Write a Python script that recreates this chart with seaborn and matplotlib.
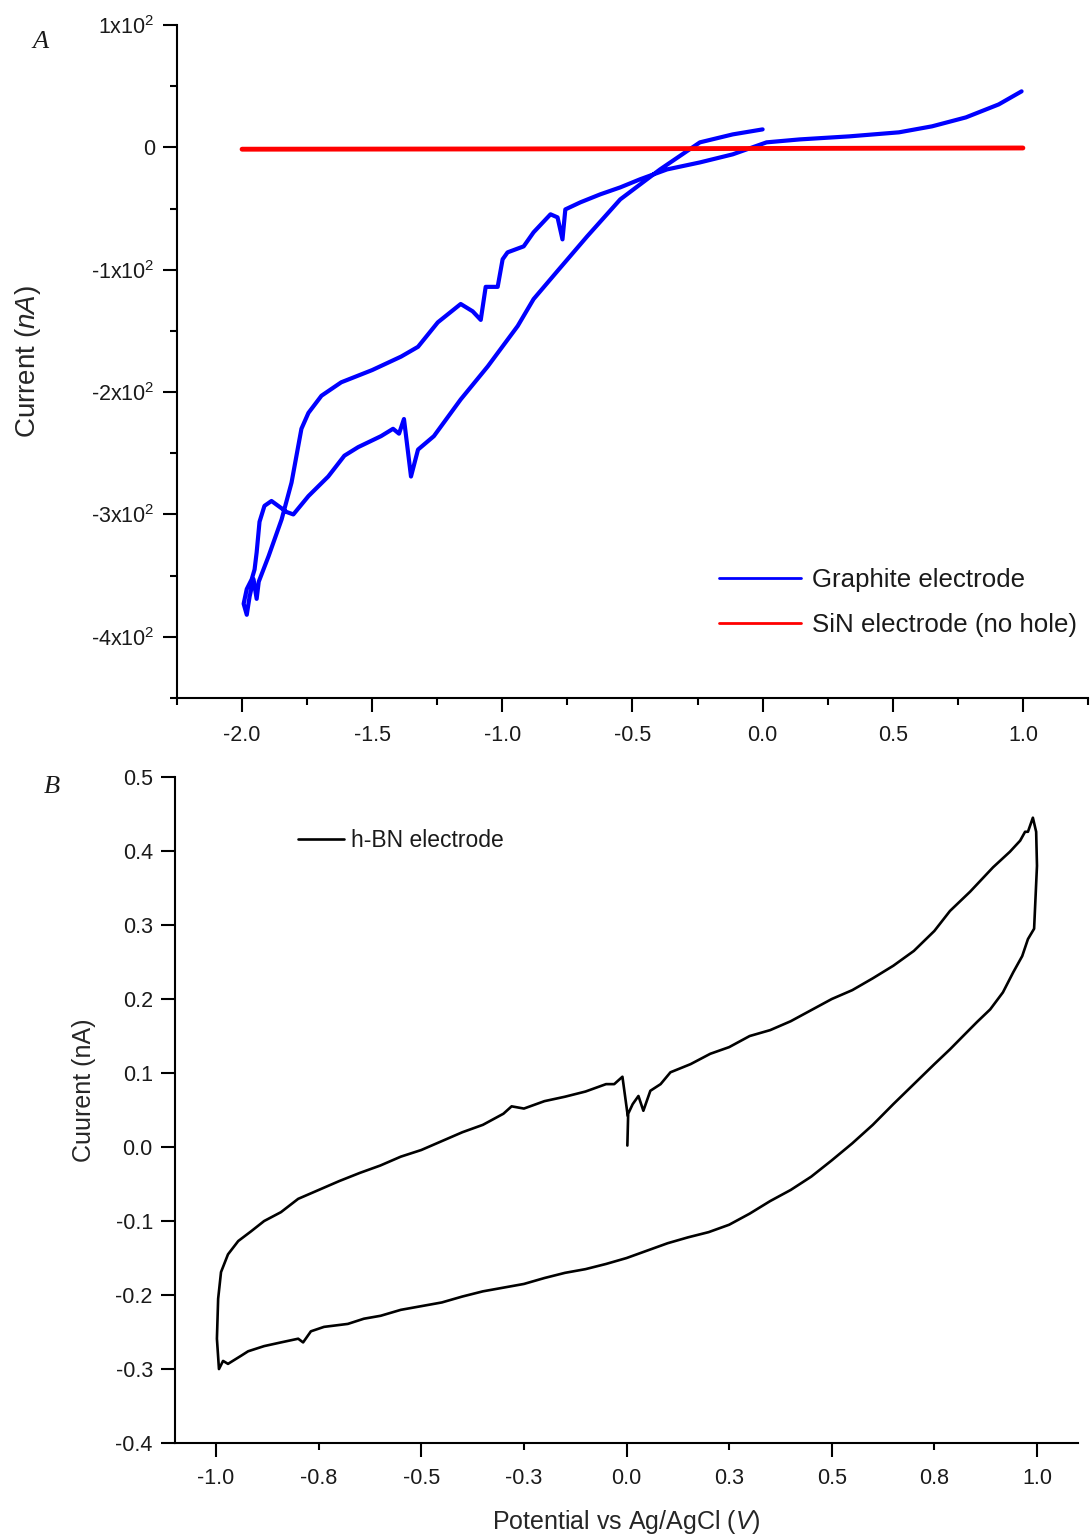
import numpy as np
import pandas as pd
import seaborn as sns
import matplotlib.pyplot as plt

# ---------------------------------
# Data
# ---------------------------------
# Panel A: graphite electrode CV loop (V, nA)
graphite_v = [0.000, -0.115, -0.241, -0.394, -0.547, -0.674, -0.788, -0.880, -0.941,
              -1.056, -1.160, -1.263, -1.324, -1.351, -1.378, -1.397, -1.420, -1.466,
              -1.554, -1.607, -1.669, -1.745, -1.803, -1.829, -1.887, -1.914, -1.933,
              -1.944, -1.952, -1.963, -1.982, -1.994, -1.982,
              -1.971, -1.956, -1.944, -1.936, -1.898, -1.848, -1.810, -1.772, -1.745,
              -1.695, -1.619, -1.500, -1.389, -1.324, -1.248, -1.160, -1.114, -1.083,
              -1.064, -1.018, -0.999, -0.980, -0.918, -0.880, -0.815, -0.788, -0.769,
              -0.758, -0.700, -0.624, -0.547, -0.471, -0.367, -0.241, -0.115, 0.015,
              0.142, 0.333, 0.524, 0.651, 0.781, 0.907, 0.995]
graphite_i = [14.7, 10.6, 4.1, -18.0, -42.5, -72.7, -101, -124, -146,
              -179, -206, -236, -247, -269, -222, -234, -230, -236,
              -245, -252, -269, -285, -300, -298, -289, -293, -306,
              -331, -345, -353, -361, -373, -382,
              -367, -353, -369, -355, -334, -304, -274, -230, -217,
              -203, -192, -182, -171, -163, -143, -128, -134, -141,
              -114, -114, -91.5, -85.8, -80.9, -69.4, -54.7, -57.2, -75.2,
              -50.7, -44.9, -38.4, -32.7, -26.1, -18.0, -12.3, -5.7, 4.1,
              6.5, 9.0, 12.3, 17.2, 24.5, 35.1, 45.8]

# Panel A: SiN electrode (no hole)
sin_v = [-2.0, -1.5, -1.0, -0.5, 0.0, 0.5, 1.0]
sin_i = [-1.5, -1.4, -1.3, -1.1, -0.9, -0.7, -0.5]

# Panel B: h-BN electrode CV loop (V, nA)
hbn_v = [0.002, 0.004, 0.015, 0.029, 0.041, 0.058, 0.083, 0.107, 0.156, 0.204,
         0.25, 0.30, 0.35, 0.40, 0.45, 0.50, 0.55, 0.60, 0.65, 0.70, 0.75, 0.788,
         0.837, 0.893, 0.934, 0.959, 0.971, 0.978, 0.990, 0.998, 1.000, 0.993,
         0.978, 0.964, 0.942, 0.917, 0.886, 0.854, 0.820, 0.788, 0.75, 0.70,
         0.65, 0.60, 0.55, 0.50, 0.45, 0.40, 0.35, 0.30, 0.25, 0.20, 0.15, 0.10,
         0.05, 0.00, -0.05, -0.10, -0.15, -0.20, -0.25, -0.30, -0.35, -0.40,
         -0.45, -0.50, -0.55, -0.599, -0.640, -0.679, -0.737, -0.769, -0.788,
         -0.800, -0.842, -0.883, -0.922, -0.939, -0.971, -0.983, -0.993, -0.998,
         -0.995, -0.988, -0.971, -0.946, -0.915, -0.883, -0.842, -0.800, -0.75,
         -0.70, -0.65, -0.60, -0.55, -0.50, -0.45, -0.40, -0.35, -0.30, -0.28,
         -0.25, -0.20, -0.15, -0.10, -0.05, -0.03, -0.01, 0.003]
hbn_i = [0.002, 0.045, 0.058, 0.069, 0.049, 0.076, 0.085, 0.101, 0.112, 0.126,
         0.135, 0.150, 0.158, 0.170, 0.185, 0.200, 0.212, 0.228, 0.245, 0.265, 0.292, 0.319,
         0.345, 0.378, 0.399, 0.414, 0.426, 0.426, 0.445, 0.426, 0.380, 0.295,
         0.281, 0.258, 0.236, 0.209, 0.186, 0.169, 0.150, 0.132, 0.112, 0.085,
         0.058, 0.030, 0.005, -0.018, -0.040, -0.058, -0.073, -0.090, -0.105, -0.115, -0.122, -0.130,
         -0.140, -0.150, -0.158, -0.165, -0.170, -0.177, -0.185, -0.190, -0.195, -0.202,
         -0.210, -0.215, -0.220, -0.228, -0.232, -0.239, -0.243, -0.249, -0.264,
         -0.259, -0.264, -0.269, -0.276, -0.282, -0.293, -0.289, -0.300, -0.259,
         -0.205, -0.169, -0.145, -0.127, -0.114, -0.100, -0.088, -0.070, -0.058,
         -0.046, -0.035, -0.025, -0.013, -0.004, 0.008, 0.020, 0.030, 0.045, 0.055,
         0.052, 0.062, 0.068, 0.075, 0.085, 0.085, 0.095, 0.042]

# Tick labels
a_yticks = [100, 0, -100, -200, -300, -400]
a_ylabels = ["1x10$^2$", "0", "-1x10$^2$", "-2x10$^2$", "-3x10$^2$", "-4x10$^2$"]
a_xticks = [-2.0, -1.5, -1.0, -0.5, 0.0, 0.5, 1.0]
a_xlabels = ["-2.0", "-1.5", "-1.0", "-0.5", "0.0", "0.5", "1.0"]
b_yticks = [-0.4, -0.3, -0.2, -0.1, 0.0, 0.1, 0.2, 0.3, 0.4, 0.5]
b_ylabels = ["-0.4", "-0.3", "-0.2", "-0.1", "0.0", "0.1", "0.2", "0.3", "0.4", "0.5"]
b_xticks = [-1.0, -0.5, 0.0, 0.5, 1.0]
b_xlabels = ["-1.0", "-0.5", "0.0", "0.5", "1.0"]
b_xminor = [-0.75, -0.25, 0.25, 0.75]
b_xminor_labels = ["-0.8", "-0.3", "0.3", "0.8"]

# ---------------------------------
# Style
# ---------------------------------
sns.set_theme(style="ticks")
plt.rcParams['font.family'] = ['Liberation Sans', 'DejaVu Sans']
plt.rcParams['mathtext.fontset'] = 'custom'
plt.rcParams['mathtext.rm'] = 'Liberation Sans'
plt.rcParams['mathtext.it'] = 'Liberation Sans:italic'
plt.rcParams['axes.linewidth'] = 1.5
plt.rcParams['axes.edgecolor'] = 'black'
plt.rcParams['text.color'] = '#1a1a1a'

TICK_FS = 15.5
MAJ, MIN, PAD = 10, 5, 6


def style_axis(ax, xpad):
    sns.despine(ax=ax)
    ax.tick_params(which='major', direction='out', length=MAJ, width=1.5,
                   pad=PAD, labelsize=TICK_FS, colors='black', labelcolor='#1a1a1a')
    ax.tick_params(which='minor', direction='out', length=MIN, width=1.5,
                   pad=PAD + MAJ - MIN, labelsize=TICK_FS, colors='black',
                   labelcolor='#1a1a1a')
    ax.tick_params(axis='x', which='major', pad=xpad)
    ax.tick_params(axis='x', which='minor', pad=xpad + MAJ - MIN)
    ax.grid(False)


fig = plt.figure(figsize=(10.92, 15.35), dpi=100)

# ---------------------------------
# Panel A
# ---------------------------------
ax1 = fig.add_axes([0.1621, 0.5453, 0.8342, 0.4384])
sns.lineplot(x=graphite_v, y=graphite_i, sort=False, estimator=None,
             color='#0000ff', linewidth=3.0, label='Graphite electrode', ax=ax1)
sns.lineplot(x=sin_v, y=sin_i, sort=False, estimator=None,
             color='#ff0000', linewidth=3.5, label='SiN electrode (no hole)', ax=ax1)
ax1.set_xlim(-2.25, 1.25)
ax1.set_ylim(-450, 100)
ax1.set_xticks(a_xticks, a_xlabels)
ax1.set_xticks(np.arange(-2.25, 1.26, 0.5), minor=True)
ax1.set_yticks(a_yticks, a_ylabels)
ax1.set_yticks([50, -50, -150, -250, -350, -450], minor=True)
style_axis(ax1, xpad=9.5)
ax1.set_xlabel('')
ax1.set_ylabel('Current ($\\mathit{nA}$)', fontsize=20)
ax1.yaxis.set_label_coords(-0.147, 0.5)
leg = ax1.legend(loc='lower left', bbox_to_anchor=(0.569, 0.056), frameon=False,
                 fontsize=18.6, handlelength=3.2, handletextpad=0.42, labelspacing=0.8)
for ln in leg.get_lines():
    ln.set_linewidth(2)
ax1.text(-0.150, 0.975, 'A', transform=ax1.transAxes, fontsize=19,
         family='Liberation Serif', style='italic', ha='center', va='center')

# ---------------------------------
# Panel B
# ---------------------------------
ax2 = fig.add_axes([0.1603, 0.0599, 0.8269, 0.4339])
sns.lineplot(x=hbn_v, y=hbn_i, sort=False, estimator=None,
             color='black', linewidth=1.9, label='h-BN electrode', ax=ax2)
ax2.set_xlim(-1.1, 1.1)
ax2.set_ylim(-0.4, 0.5)
ax2.set_xticks(b_xticks, b_xlabels)
ax2.set_xticks(b_xminor, b_xminor_labels, minor=True)
ax2.set_yticks(b_yticks, b_ylabels)
style_axis(ax2, xpad=8)
ax2.set_xlabel('Potential vs Ag/AgCl ($\\mathit{V}$)', fontsize=18)
ax2.xaxis.set_label_coords(0.5, -0.097)
ax2.set_ylabel('Cuurent (nA)', fontsize=18)
ax2.yaxis.set_label_coords(-0.087, 0.53)
leg2 = ax2.legend(loc='center left', bbox_to_anchor=(0.113, 0.905), frameon=False,
                  fontsize=16.5, handlelength=2.0, handletextpad=0.33)
for ln in leg2.get_lines():
    ln.set_linewidth(1.9)
ax2.text(-0.136, 0.985, 'B', transform=ax2.transAxes, fontsize=19,
         family='Liberation Serif', style='italic', ha='center', va='center')

fig.savefig('out.png', dpi=100)
